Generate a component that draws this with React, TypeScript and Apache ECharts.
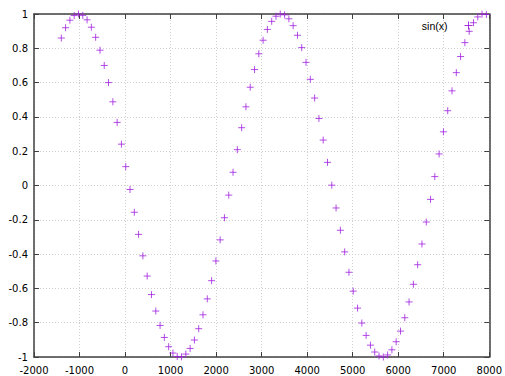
import React, { useEffect, useRef } from "react";
import * as echarts from "echarts";

const seriesName = "sin(x)";

const xValues: number[] = [
  -1400, -1306, -1211, -1117, -1023, -929, -834, -740, -646, -551,
  -457, -363, -268, -174, -80, 15, 109, 203, 297, 392,
  486, 580, 675, 769, 863, 958, 1052, 1146, 1240, 1335,
  1429, 1523, 1618, 1712, 1806, 1901, 1995, 2089, 2183, 2278,
  2372, 2466, 2561, 2655, 2749, 2844, 2938, 3032, 3126, 3221,
  3315, 3409, 3504, 3598, 3692, 3787, 3881, 3975, 4069, 4164,
  4258, 4352, 4447, 4541, 4635, 4730, 4824, 4918, 5012, 5107,
  5201, 5295, 5390, 5484, 5578, 5673, 5767, 5861, 5955, 6050,
  6144, 6238, 6333, 6427, 6521, 6616, 6710, 6804, 6898, 6993,
  7087, 7181, 7276, 7370, 7464, 7559, 7653, 7747, 7841, 7936,
];

const yValues: number[] = [
  0.860, 0.920, 0.964, 0.991, 1.000, 0.992, 0.966, 0.923, 0.864, 0.789,
  0.700, 0.600, 0.488, 0.368, 0.241, 0.110, -0.023, -0.156, -0.285, -0.410,
  -0.528, -0.636, -0.732, -0.816, -0.886, -0.940, -0.977, -0.997, -0.999, -0.983,
  -0.950, -0.901, -0.835, -0.754, -0.661, -0.555, -0.440, -0.317, -0.188, -0.056,
  0.077, 0.209, 0.337, 0.459, 0.573, 0.676, 0.768, 0.847, 0.910, 0.957,
  0.987, 1.000, 0.995, 0.972, 0.932, 0.876, 0.804, 0.718, 0.619, 0.510,
  0.391, 0.265, 0.135, 0.002, -0.131, -0.261, -0.387, -0.506, -0.616, -0.715,
  -0.802, -0.874, -0.931, -0.971, -0.994, -1.000, -0.988, -0.958, -0.911, -0.849,
  -0.771, -0.679, -0.576, -0.462, -0.341, -0.213, -0.081, 0.052, 0.184, 0.313,
  0.436, 0.552, 0.658, 0.752, 0.833, 0.899, 0.949, 0.983, 0.999, 0.997,
];

const xTicks = { min: -2000, max: 8000, interval: 1000 };
const yTicks = { min: -1, max: 1, interval: 0.2 };

const PLUS = "path://M0,5L10,5M5,0L5,10";

export default function App() {
  const ref = useRef<HTMLDivElement>(null);
  useEffect(() => {
    if (!ref.current) return;
    const chart = echarts.init(ref.current, null, { renderer: "svg" });
    const data = xValues.map((x, i) => [x, yValues[i]]);
    const font = "DejaVu Sans";
    const axisLine = { show: true, onZero: false, lineStyle: { color: "#404040", width: 1.5 } };
    const tick = { show: true, inside: true, length: 5, lineStyle: { color: "#404040", width: 1 } };
    const split = { show: true, lineStyle: { color: "#d0d0d0", type: [1, 2] as any, width: 1 } };
    chart.setOption({
      animation: false,
      backgroundColor: "#ffffff",
      grid: { left: 34, right: 12, top: 14, bottom: 19, containLabel: false },
      legend: {
        show: true,
        right: 27,
        top: 15,
        align: "right",
        itemWidth: 8,
        itemHeight: 8,
        icon: PLUS,
        itemStyle: { color: "transparent", borderColor: "#9400d3", borderWidth: 1 },
        textStyle: { fontFamily: "Liberation Sans", fontSize: 10.5, color: "#000", padding: [0, 12, 0, 0] },
        data: [seriesName],
      },
      xAxis: [
        {
          type: "value",
          position: "bottom",
          ...xTicks,
          axisLine,
          axisTick: tick,
          splitLine: split,
          axisLabel: {
            show: true,
            margin: 8,
            color: "#000",
            fontFamily: font,
            fontSize: 10,
            showMaxLabel: true,
            showMinLabel: true,
            formatter: (v: number) => String(v),
          },
        },
        {
          type: "value",
          position: "top",
          ...xTicks,
          axisLine,
          axisTick: tick,
          splitLine: { show: false },
          axisLabel: { show: false },
        },
      ],
      yAxis: [
        {
          type: "value",
          position: "left",
          ...yTicks,
          axisLine,
          axisTick: tick,
          splitLine: split,
          axisLabel: {
            show: true,
            margin: 6,
            color: "#000",
            fontFamily: font,
            fontSize: 10,
            formatter: (v: number) => String(Math.round(v * 10) / 10),
          },
        },
        {
          type: "value",
          position: "right",
          ...yTicks,
          axisLine,
          axisTick: tick,
          splitLine: { show: false },
          axisLabel: { show: false },
        },
      ],
      series: [
        {
          name: seriesName,
          type: "scatter",
          data,
          symbol: PLUS,
          symbolSize: 7,
          itemStyle: { color: "transparent", borderColor: "#a020e0", borderWidth: 1 },
          emphasis: { disabled: true },
        },
      ],
    });
    return () => chart.dispose();
  }, []);
  return (
    <div
      ref={ref}
      style={{ position: "fixed", left: 0, top: 0, width: 505, height: 376 }}
    />
  );
}
